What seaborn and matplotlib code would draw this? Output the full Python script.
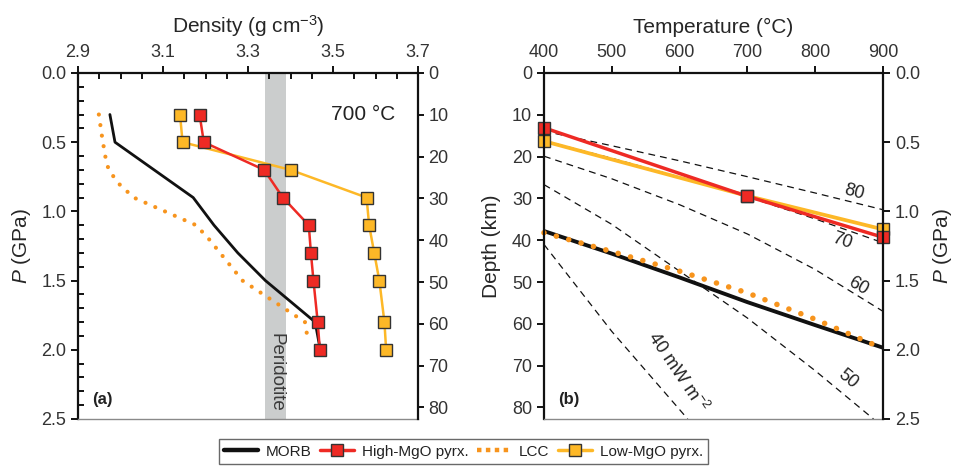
import numpy as np
import pandas as pd
import matplotlib.pyplot as plt
import seaborn as sns
from matplotlib.lines import Line2D
from matplotlib.ticker import MultipleLocator

# (a) density vs pressure at 700 C
p_pyrx = [0.3, 0.5, 0.7, 0.9, 1.1, 1.3, 1.5, 1.8, 2.0]
rho_high_mgo = [3.186, 3.196, 3.338, 3.382, 3.443, 3.448, 3.454, 3.464, 3.469]
rho_low_mgo = [3.140, 3.146, 3.400, 3.579, 3.585, 3.597, 3.609, 3.621, 3.625]
p_morb = [0.3, 0.5, 0.9, 1.1, 1.3, 1.5, 1.8, 2.0]
rho_morb = [2.975, 2.987, 3.171, 3.220, 3.276, 3.341, 3.458, 3.470]
p_lcc = [0.3, 0.45, 0.6, 0.7, 0.8, 0.9, 1.1, 1.2, 1.5, 1.8, 1.95]
rho_lcc = [2.949, 2.956, 2.964, 2.972, 2.996, 3.031, 3.178, 3.208, 3.287, 3.434, 3.442]
peridotite = (3.34, 3.39)
density_ticks = [2.9, 3.1, 3.3, 3.5, 3.7]

# (b) temperature vs depth
t_pyrx = [400, 700, 900]
z_high_mgo = [13.1, 29.5, 39.3]
z_low_mgo = [16.3, 29.4, 37.4]
t_curve = [400, 500, 600, 700, 800, 900]
z_morb = [37.8, 43.2, 48.9, 54.8, 60.3, 65.7]
z_lcc = [38.2, 42.7, 47.4, 52.6, 58.9, 65.9]

# geotherms (mW m-2)
t_geo = [400, 500, 600, 700, 800, 900]
z_geo80 = [13.9, 17.4, 21.0, 24.8, 28.7, 32.7]
z_geo70 = [16.2, 20.4, 24.9, 29.6, 34.9, 40.6]
z_geo60 = [19.9, 25.3, 31.5, 38.5, 47.0, 57.0]
t_geo50 = [400, 500, 600, 700, 800, 886]
z_geo50 = [26.7, 36.2, 47.4, 58.6, 71.2, 82.75]
t_geo40 = [400, 500, 612]
z_geo40 = [41.0, 61.8, 82.75]

KM_PER_GPA = 33.1
RED, YELLOW, ORANGE = "#ee2a24", "#fdb827", "#f7941d"
EDGE = "#333333"

sns.set_theme(style="ticks")
plt.rcParams['font.family'] = ['Liberation Sans', 'DejaVu Sans']
plt.rcParams['mathtext.fontset'] = 'custom'
plt.rcParams['mathtext.rm'] = 'Liberation Sans'
plt.rcParams['mathtext.it'] = 'Liberation Sans:italic'
plt.rcParams['mathtext.bf'] = 'Liberation Sans:bold'
plt.rcParams['axes.edgecolor'] = '#111111'
plt.rcParams['text.color'] = '#222222'

fig = plt.figure(figsize=(9.55, 4.67), dpi=100)
ax_a = fig.add_axes([0.0817, 0.1028, 0.3560, 0.7409])
ax_b = fig.add_axes([0.5696, 0.1028, 0.3550, 0.7409])

dots = (0, (0.01, 2.55))


def style_axes(ax, twin):
    for s in ['top', 'left']:
        ax.spines[s].set_linewidth(1.6)
    ax.spines['right'].set_visible(False)
    ax.spines['bottom'].set_linewidth(1.0)
    ax.spines['bottom'].set_color('#8a8a8a')
    for s in ['top', 'left', 'bottom']:
        twin.spines[s].set_visible(False)
    twin.spines['right'].set_linewidth(1.6)
    ax.xaxis.tick_top()
    ax.xaxis.set_label_position('top')
    for a in (ax, twin):
        a.tick_params(which='major', direction='out', length=5, width=1.4,
                      labelsize=13, colors='#111111', labelcolor='#333333')
        a.set_facecolor('none')


# ---------- panel (a) ----------
ax_a.axvspan(*peridotite, color='#cbcdcd', lw=0, zorder=0)
sns.lineplot(x=rho_lcc, y=p_lcc, sort=False, estimator=None, ax=ax_a,
             color=ORANGE, lw=3.0, linestyle=dots, dash_capstyle='round')
sns.lineplot(x=rho_morb, y=p_morb, sort=False, estimator=None, ax=ax_a,
             color='#111111', lw=2.0)
sns.lineplot(x=rho_low_mgo, y=p_pyrx, sort=False, estimator=None, ax=ax_a,
             color=YELLOW, lw=1.8, marker='s', ms=8, mec=EDGE, mew=1.0)
sns.lineplot(x=rho_high_mgo, y=p_pyrx, sort=False, estimator=None, ax=ax_a,
             color=RED, lw=1.8, marker='s', ms=8, mec=EDGE, mew=1.0)

ax_a.set_xlim(2.9, 3.7)
ax_a.set_ylim(2.5, 0)
ax_a.set_xticks(density_ticks)
ax_a.xaxis.set_minor_locator(MultipleLocator(0.05))
ax_a.yaxis.set_major_locator(MultipleLocator(0.5))
ax_a.yaxis.set_minor_locator(MultipleLocator(0.1))
ax_a.xaxis.set_major_formatter(lambda v, pos: f"{v:.1f}")
ax_a.yaxis.set_major_formatter(lambda v, pos: f"{v:.1f}")
ax_a.set_xlabel("Density (g cm$^{-3}$)", fontsize=15, labelpad=8)
ax_a.set_ylabel("$P$ (GPa)", fontsize=15, labelpad=6)

tw_a = ax_a.twinx()
tw_a.set_ylim(2.5 * KM_PER_GPA, 0)
tw_a.yaxis.set_major_locator(MultipleLocator(10))
style_axes(ax_a, tw_a)
ax_a.xaxis.set_tick_params(which='minor', top=True, bottom=False, direction='in',
                           length=4, width=1.4, color='#111111')
ax_a.yaxis.set_tick_params(which='minor', left=True, right=False, direction='in',
                           length=4, width=1.4, color='#111111')
ax_a.tick_params(axis='x', which='both', bottom=False, top=True)
tw_a.tick_params(which='major', length=4)

ax_a.text(0.932, 0.88, "700 °C", transform=ax_a.transAxes, ha='right', va='center',
          fontsize=15)
ax_a.text(np.mean(peridotite) + 0.002, 2.165, "Peridotite", rotation=-90,
          ha='center', va='center', fontsize=13.5, color='#3a3a3a')
ax_a.text(0.042, 0.035, "(a)", transform=ax_a.transAxes, fontsize=12,
          fontweight='bold', ha='left', va='bottom')

# ---------- panel (b) ----------
for tg, zg in [(t_geo, z_geo80), (t_geo, z_geo70), (t_geo, z_geo60),
               (t_geo50, z_geo50), (t_geo40, z_geo40)]:
    ax_b.plot(tg, zg, color='#111111', lw=0.9, linestyle=(0, (5.5, 4)), zorder=1)

sns.lineplot(x=t_curve, y=z_morb, sort=False, estimator=None, ax=ax_b,
             color='#111111', lw=2.8)
sns.lineplot(x=t_curve, y=z_lcc, sort=False, estimator=None, ax=ax_b,
             color=ORANGE, lw=4.0, linestyle=(0, (0.01, 2.3)), dash_capstyle='round',
             clip_on=False)
sns.lineplot(x=t_pyrx, y=z_low_mgo, sort=False, estimator=None, ax=ax_b,
             color=YELLOW, lw=2.7, marker='s', ms=8, mec=EDGE, mew=1.0, clip_on=False)
sns.lineplot(x=t_pyrx, y=z_high_mgo, sort=False, estimator=None, ax=ax_b,
             color=RED, lw=2.5, marker='s', ms=8, mec=EDGE, mew=1.0, clip_on=False)

geo_labels = [("80", 857, 28.6, -15), ("70", 840, 40.3, -19), ("60", 864, 51.0, -30),
              ("50", 849, 73.3, -40)]
for txt, tx, tz, rot in geo_labels:
    ax_b.text(tx, tz, txt, rotation=rot, ha='center', va='center', fontsize=13,
              rotation_mode='anchor')
ax_b.text(597, 71.5, "40 mW m$^{-2}$", rotation=-56, ha='center', va='center',
          fontsize=13, rotation_mode='anchor')

ax_b.set_xlim(400, 900)
ax_b.set_ylim(2.5 * KM_PER_GPA, 0)
ax_b.xaxis.set_major_locator(MultipleLocator(100))
ax_b.yaxis.set_major_locator(MultipleLocator(10))
ax_b.set_xlabel("Temperature (°C)", fontsize=15, labelpad=8)
ax_b.set_ylabel("Depth (km)", fontsize=15, labelpad=8)

tw_b = ax_b.twinx()
tw_b.set_ylim(2.5, 0)
tw_b.yaxis.set_major_locator(MultipleLocator(0.5))
tw_b.yaxis.set_major_formatter(lambda v, pos: f"{v:.1f}")
tw_b.set_ylabel("$P$ (GPa)", fontsize=15, labelpad=8)
style_axes(ax_b, tw_b)
ax_b.tick_params(axis='x', which='both', bottom=False, top=True)
ax_b.text(0.042, 0.035, "(b)", transform=ax_b.transAxes, fontsize=12,
          fontweight='bold', ha='left', va='bottom')

# ---------- legend ----------
handles = [
    Line2D([], [], color='#111111', lw=3.2),
    Line2D([], [], color=RED, lw=2.5, marker='s', ms=8, mec=EDGE, mew=1.0),
    Line2D([], [], color=ORANGE, lw=3.2, linestyle=(0, (1, 1))),
    Line2D([], [], color=YELLOW, lw=2.5, marker='s', ms=8, mec=EDGE, mew=1.0),
]
labels = ["MORB", "High-MgO pyrx.", "LCC", "Low-MgO pyrx."]
leg = fig.legend(handles, labels, loc='center', bbox_to_anchor=(0.4853, 0.033),
                 ncol=4, fontsize=11, frameon=True, fancybox=False,
                 handlelength=2.2, handletextpad=0.5, columnspacing=0.6,
                 borderpad=0.35, edgecolor='#444444')
leg.get_frame().set_linewidth(1.0)

fig.savefig("out.png", dpi=100)
